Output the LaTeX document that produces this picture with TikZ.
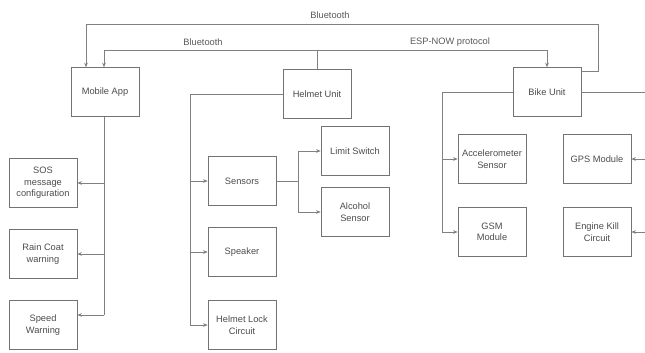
\documentclass[tikz,border=0pt]{standalone}
\usepackage{fontspec}
\setmainfont{Liberation Sans}
\usepackage{tikz}
\usetikzlibrary{positioning, arrows.meta}

\tikzset{
  block/.style={draw=black!55, line width=0.5pt, minimum width=1.7cm, minimum height=1.22cm,
    align=center, inner sep=1pt, text=black!70,
    font=\fontsize{6.6}{8.2}\selectfont},
  link/.style={draw=black!50, line width=0.45pt},
  linkarrow/.style={link, -{Stealth[length=3.2pt,width=2.6pt]}},
  tag/.style={text=black!65, font=\fontsize{6.6}{8.2}\selectfont, inner sep=1pt}
}

\begin{document}
\begin{tikzpicture}[x=0.025cm, y=-0.025cm]
        \useasboundingbox (0,0) rectangle (645,353);
        % Main units
        \node[block] (mobile) at (105,92) {Mobile App};
        \node[block] (helmet) at (317,94) {Helmet Unit};
        \node[block] (bike) at (547,92) {Bike Unit};
        % Mobile app features
        \node[block] (sos) at (43,183) {SOS\\message\\configuration};
        \node[block] (rain) at (43,254) {Rain Coat\\warning};
        \node[block] (speed) at (43,325) {Speed\\Warning};
        % Helmet parts
        \node[block] (sensors) at (242,181) {Sensors};
        \node[block] (speaker) at (242,252) {Speaker};
        \node[block] (lock) at (242,325) {Helmet Lock\\Circuit};
        \node[block] (limit) at (355,151) {Limit Switch};
        \node[block] (alcohol) at (355,212) {Alcohol\\Sensor};
        % Bike parts
        \node[block] (accel) at (492,159) {Accelerometer\\Sensor};
        \node[block] (gsm) at (492,232) {GSM\\Module};
        \node[block] (gps) at (597,159) {GPS Module};
        \node[block] (engine) at (597,232) {Engine Kill\\Circuit};
        % Bends of the links
        \coordinate (btR) at (598,24);
        \coordinate (btL) at (86,24);
        \coordinate (espU) at (317,50);
        \coordinate (mobBus) at (104,315);
        \coordinate (helBus) at (190,325);
        \coordinate (senBus) at (298,181);
        \coordinate (bikBusL) at (442,232);
        \coordinate (bikBusR) at (650,232);
        % Wireless links
        \draw[linkarrow] (bike.east |- 0,71) -| (btR) -- (btL) -- (mobile.north -| btL);
        \draw[linkarrow] (helmet.north) -- (espU) -| (mobile.north -| mobBus);
        \draw[linkarrow] (espU) -| (bike.north);
        \node[tag] at (330,15) {Bluetooth};
        \node[tag] at (203,42) {Bluetooth};
        \node[tag] at (450,42) {ESP-NOW protocol};
        % Mobile app tree
        \draw[link] (mobile.south -| mobBus) -- (mobBus);
        \draw[linkarrow] (mobBus |- sos) -- (sos.east);
        \draw[linkarrow] (mobBus |- rain) -- (rain.east);
        \draw[linkarrow] (mobBus) -- (speed.east |- mobBus);
        % Helmet tree
        \draw[link] (helmet.west) -| (helBus);
        \draw[linkarrow] (helBus |- sensors) -- (sensors.west);
        \draw[linkarrow] (helBus |- speaker) -- (speaker.west);
        \draw[linkarrow] (helBus) -- (lock.west);
        \draw[link] (sensors.east) -- (senBus);
        \draw[linkarrow] (senBus) |- (limit.west);
        \draw[linkarrow] (senBus) |- (alcohol.west);
        % Bike tree
        \draw[link] (bike.west) -| (bikBusL);
        \draw[linkarrow] (bikBusL |- accel) -- (accel.west);
        \draw[linkarrow] (bikBusL) -- (gsm.west);
        \draw[link] (bike.east) -| (bikBusR);
        \draw[linkarrow] (bikBusR |- gps) -- (gps.east);
        \draw[linkarrow] (bikBusR) -- (engine.east);
    \end{tikzpicture}
\end{document}
